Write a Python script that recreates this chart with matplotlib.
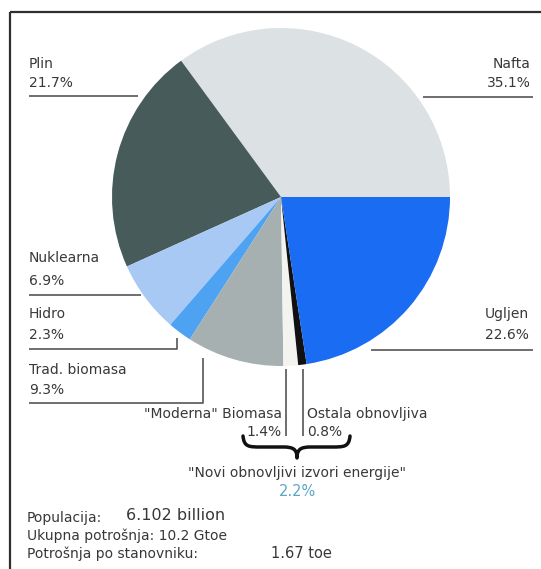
import matplotlib
matplotlib.use("Agg")
import matplotlib.pyplot as plt
from matplotlib.path import Path
from matplotlib.patches import PathPatch

# World primary energy consumption by source (%)
sources = ["Nafta", "Plin", "Nuklearna", "Hidro", "Trad. biomasa",
           "\"Moderna\" Biomasa", "Ostala obnovljiva", "Ugljen"]
shares = [35.1, 21.7, 6.9, 2.3, 9.3, 1.4, 0.8, 22.6]
colors = ["#dce1e3", "#465b5a", "#a9c9f5", "#4ea2f2", "#a7b0b0",
          "#f3f4ef", "#111111", "#1a6cf2"]

group_title = "\"Novi obnovljivi izvori energije\""
population = "6.102 billion"
total_use = "10.2 Gtoe"
per_capita = "1.67 toe"

W, H = 541, 569
fig = plt.figure(figsize=(W / 100, H / 100), dpi=100)
ax = fig.add_axes([0, 0, 1, 1])

def Y(py):
    """Convert a top-down pixel row to the axes' bottom-up y."""
    return H - py

cx, cy, r = 281, 197, 169
ax.pie(shares, colors=colors, startangle=0, counterclock=True,
       center=(cx, Y(cy)), radius=r, wedgeprops=dict(linewidth=0))

ax.set_xlim(0, W)
ax.set_ylim(0, H)
ax.set_aspect("equal")
ax.axis("off")

# frame (top and left edges)
fc = "#2e2e2e"
ax.plot([10, W + 5], [Y(12), Y(12)], color=fc, lw=1.6, solid_capstyle="butt")
ax.plot([10, 10], [Y(12), Y(H + 5)], color=fc, lw=1.6, solid_capstyle="butt")

tc = "#383838"
fs = 10
lc = "#555555"
lw = 1.2

def pct(v):
    return f"{v}%"

def label(x, y1, y2, name, val, ha="left"):
    ax.text(x, Y(y1), name, ha=ha, va="center", fontsize=fs, color=tc)
    ax.text(x, Y(y2), val, ha=ha, va="center", fontsize=fs, color=tc)

def seg(xs, ys):
    ax.plot(xs, [Y(v) for v in ys], color=lc, lw=lw, solid_capstyle="butt")

# Plin
label(29, 64, 83, sources[1], pct(shares[1]))
seg([29, 138], [96, 96])
# Nafta
label(531, 64, 83, sources[0], pct(shares[0]), ha="right")
seg([423, 533], [97, 97])
# Nuklearna
label(29, 258, 281, sources[2], pct(shares[2]))
seg([29, 141], [295, 295])
# Hidro
label(29, 314, 335, sources[3], pct(shares[3]))
seg([29, 177, 177], [349, 349, 338])
# Trad. biomasa
label(29, 370, 390, sources[4], pct(shares[4]))
seg([29, 203, 203], [403, 403, 358])
# Ugljen
label(529, 314, 335, sources[7], pct(shares[7]), ha="right")
seg([371, 533], [350, 350])

# new renewables
seg([286, 286], [369, 436])
seg([303, 303], [369, 436])
label(282, 414, 432, sources[5], pct(shares[5]), ha="right")
label(307, 414, 432, sources[6], pct(shares[6]))

# curly brace
bx0, bx1, tip = 243, 350, 297
top, mid, bot = 436, 447, 458
verts = [
    (bx0, top),
    (bx0 + 1, mid), (bx0 + 6, mid), (bx0 + 18, mid),
    (tip - 14, mid),
    (tip - 4, mid), (tip, mid + 2), (tip, bot),
    (tip, mid + 2), (tip + 4, mid), (tip + 14, mid),
    (bx1 - 18, mid),
    (bx1 - 6, mid), (bx1 - 1, mid), (bx1, top),
]
codes = [Path.MOVETO,
         Path.CURVE4, Path.CURVE4, Path.CURVE4,
         Path.LINETO,
         Path.CURVE4, Path.CURVE4, Path.CURVE4,
         Path.CURVE4, Path.CURVE4, Path.CURVE4,
         Path.LINETO,
         Path.CURVE4, Path.CURVE4, Path.CURVE4]
brace = Path([(x, Y(y)) for x, y in verts], codes)
ax.add_patch(PathPatch(brace, facecolor="none", edgecolor="#111111",
                       lw=2.5, capstyle="round", joinstyle="round"))

ax.text(297, Y(473), group_title, ha="center", va="center",
        fontsize=fs, color=tc)
ax.text(297, Y(491), pct(round(shares[5] + shares[6], 1)), ha="center",
        va="center", fontsize=fs + 0.5, color="#5aa5c8")

# summary block
ax.text(27, Y(518), "Populacija:", ha="left", va="center", fontsize=fs, color=tc)
ax.text(126, Y(516), population, ha="left", va="center", fontsize=11.5, color=tc)
ax.text(27, Y(536), f"Ukupna potrošnja: {total_use}", ha="left", va="center",
        fontsize=fs, color=tc)
ax.text(27, Y(554), "Potrošnja po stanovniku:", ha="left", va="center",
        fontsize=fs, color=tc)
ax.text(271, Y(554), per_capita, ha="left", va="center", fontsize=fs + 0.5,
        color=tc)

fig.savefig("out.png", dpi=100, facecolor="white")
